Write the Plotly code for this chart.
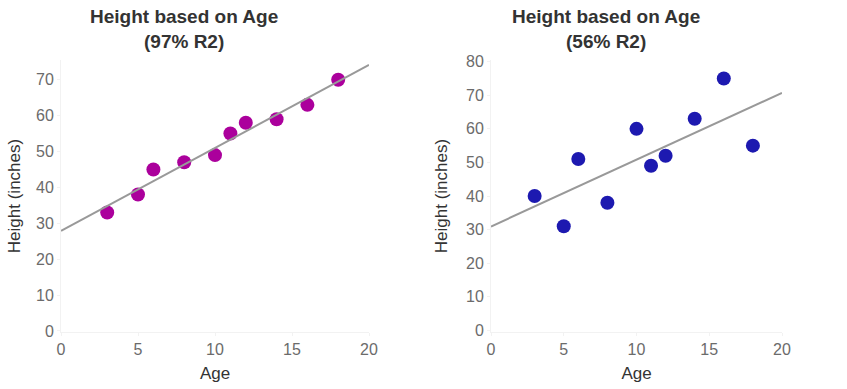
import numpy as np
import plotly.graph_objects as go

age = [3, 5, 6, 8, 10, 11, 12, 14, 16, 18]
height_a = [33, 38, 45, 47, 49, 55, 58, 59, 63, 70]
height_b = [40, 31, 51, 38, 60, 49, 52, 63, 75, 55]
titles = ["Height based on Age<br>(97% R2)", "Height based on Age<br>(56% R2)"]
x_ticks = [0, 5, 10, 15, 20]
y_ticks_a = [0, 10, 20, 30, 40, 50, 60, 70]
y_ticks_b = [0, 10, 20, 30, 40, 50, 60, 70, 80]

FONT = "Liberation Sans, Arial, sans-serif"
W, H = 847, 389
L, T, R, B = 61, 60, W - 782, H - 332

fig = go.Figure()


def fit_line(xs, ys):
    k, b = np.polyfit(xs, ys, 1)
    xl = np.array([0, 20])
    return xl, k * xl + b


for i, (ys, col) in enumerate([(height_a, "#ab009c"), (height_b, "#1d19b0")]):
    xa = "x" if i == 0 else "x2"
    ya = "y" if i == 0 else "y2"
    fig.add_trace(go.Scatter(x=age, y=ys, mode="markers", xaxis=xa, yaxis=ya,
                             marker=dict(size=14, color=col), showlegend=False))
    xl, yl = fit_line(age, ys)
    fig.add_trace(go.Scatter(x=xl, y=yl, mode="lines", xaxis=xa, yaxis=ya,
                             line=dict(color="#999999", width=2), showlegend=False))

axis_common = dict(showgrid=False, zeroline=False, showline=True, linecolor="#f2f2f2",
                   ticks="outside", tickcolor="#f2f2f2", ticklen=3, automargin=False,
                   tickfont=dict(family=FONT, size=16, color="#6b6b6b"),
                   title_font=dict(family=FONT, size=17, color="#333333"))

pw = W - L - R
ph = H - T - B
left_end = (369 - 61) / (782 - 61)
right_start = (491 - 61) / (782 - 61)

fig.update_layout(
    width=W, height=H,
    margin=dict(l=L, r=R, t=T, b=B),
    paper_bgcolor="white", plot_bgcolor="white",
    xaxis=dict(domain=[0, left_end], range=[0, 20], tickvals=x_ticks,
               title=dict(text="Age", standoff=9), anchor="y", **axis_common),
    yaxis=dict(domain=[0, 1], range=[-0.3, 75.5], tickvals=y_ticks_a,
               title=dict(text="Height (inches)", standoff=11), anchor="x", **axis_common),
    xaxis2=dict(domain=[right_start, 1], range=[0, 20], tickvals=x_ticks,
                title=dict(text="Age", standoff=9), anchor="y2", **axis_common),
    yaxis2=dict(domain=[0, 1], range=[-0.5, 80.5], tickvals=y_ticks_b,
                title=dict(text="Height (inches)", standoff=14), anchor="x2", **axis_common),
)

for txt, cx in zip(titles, [184, 606]):
    fig.add_annotation(text="<b>" + txt.replace("<br>", "</b><br><b>") + "</b>",
                       x=(cx - L) / pw, y=(H - B - 29) / ph,
                       xref="paper", yref="paper", xanchor="center", yanchor="middle",
                       showarrow=False,
                       font=dict(family=FONT, size=19, color="#333333"))

fig.write_html("out.html", config={"displayModeBar": False},
               post_script="document.body.style.margin='0px';document.body.style.overflow='hidden';")
